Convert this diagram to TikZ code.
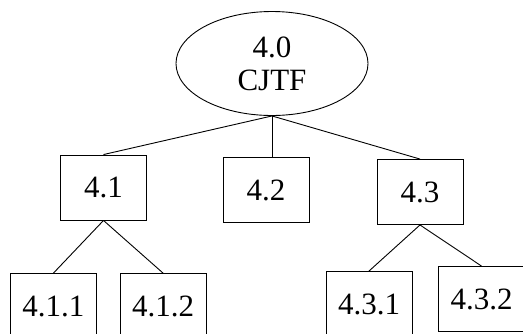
\documentclass[tikz,border=0pt]{standalone}
\usepackage{fontspec}
\setmainfont{Liberation Serif}
\usepackage{tikz}
\usetikzlibrary{shapes.geometric}

\tikzset{
  treefont/.style={font=\fontsize{31}{33}\selectfont},
  taskbox/.style={draw, line width=0.9pt, rectangle, inner sep=0pt,
                  minimum width=86pt, minimum height=65pt, treefont},
  rootnode/.style={draw, line width=0.9pt, ellipse, inner sep=0pt,
                   minimum width=192pt, minimum height=104pt, align=center, treefont},
  branch/.style={line width=0.9pt}
}

\begin{document}
\begin{tikzpicture}[x=1pt, y=-1pt]
\useasboundingbox (0,0) rectangle (523,333);
\clip (0,0) rectangle (523,333);

% --- Root ---
\node[rootnode] (cjtf) at (272,63.5) {4.0\\CJTF};

% --- Second level ---
\node[taskbox] (t41) at (103.5,187.5) {4.1};
\node[taskbox] (t42) at (266,190) {4.2};
\node[taskbox] (t43) at (420,192) {4.3};

% --- Third level (cut off at the bottom) ---
\node[taskbox] (t411) at (53.5,306) {4.1.1};
\node[taskbox] (t412) at (163,306) {4.1.2};
\node[taskbox] (t431) at (369,304) {4.3.1};
\node[taskbox] (t432) at (481.5,299) {4.3.2};

% --- Connectors ---
\draw[branch] (cjtf.south) -- (t41.north);
\draw[branch] (cjtf.south) -- (cjtf.south |- t42.north);
\draw[branch] (cjtf.south) -- (t43.north);
\draw[branch] (t41.south) -- (t411.north);
\draw[branch] (t41.south) -- (t412.north);
\draw[branch] (t43.south) -- (t431.north);
\draw[branch] (t43.south) -- (t432.north);

\end{tikzpicture}
\end{document}
